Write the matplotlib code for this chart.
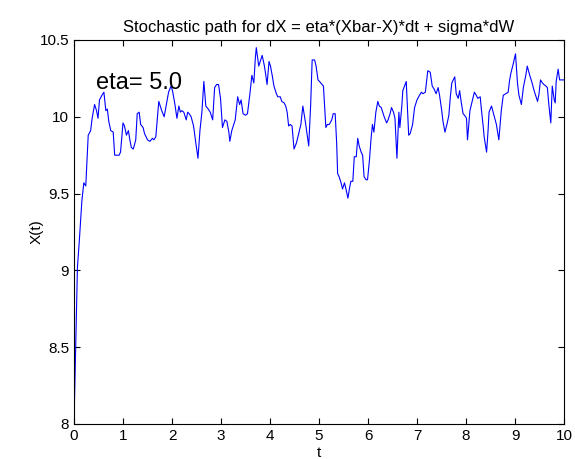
import numpy as np
import matplotlib.pyplot as plt

plt.rcParams['font.family'] = ['Liberation Sans', 'DejaVu Sans']

# path
t = [0.00, 0.07, 0.11, 0.16, 0.20, 0.24, 0.29, 0.34, 0.37, 0.42, 0.46, 0.49, 0.52, 0.57, 0.61,
     0.65, 0.68, 0.71, 0.75, 0.80, 0.83, 0.88, 0.92, 0.95, 1.00, 1.03, 1.07, 1.11, 1.14, 1.17,
     1.21, 1.26, 1.29, 1.33, 1.36, 1.41, 1.44, 1.50, 1.55, 1.60, 1.63,
     1.67, 1.73, 1.79, 1.84, 1.89, 1.93, 1.98, 2.01, 2.06, 2.10, 2.14, 2.17, 2.20, 2.24, 2.29,
     2.32, 2.35, 2.39, 2.44, 2.49, 2.53, 2.57, 2.61, 2.65, 2.69, 2.74, 2.78, 2.83, 2.87, 2.91,
     2.95, 2.99, 3.03, 3.08, 3.12, 3.16, 3.18, 3.22, 3.27, 3.29, 3.34,
     3.38, 3.41, 3.45, 3.50, 3.54, 3.59, 3.63, 3.67, 3.70, 3.72, 3.77, 3.81, 3.84, 3.88, 3.91,
     3.94, 3.98, 4.01, 4.05, 4.08, 4.13, 4.16, 4.21, 4.24, 4.29, 4.32, 4.35, 4.38, 4.41, 4.45,
     4.49, 4.54, 4.57, 4.63, 4.67, 4.72, 4.76, 4.79, 4.83, 4.86, 4.91, 4.94, 4.98, 5.01,
     5.09, 5.14, 5.17, 5.21, 5.26, 5.29, 5.33, 5.36, 5.38, 5.41, 5.45, 5.48, 5.52, 5.55, 5.59,
     5.62, 5.65, 5.69, 5.72, 5.76, 5.79, 5.82, 5.86, 5.89, 5.92, 5.96, 5.99, 6.03, 6.06, 6.09,
     6.12, 6.16, 6.20, 6.23, 6.27, 6.30, 6.33, 6.38, 6.41, 6.45, 6.48, 6.52, 6.55, 6.59, 6.63,
     6.65, 6.69,
     6.71, 6.78, 6.83, 6.86, 6.91, 6.95, 7.00, 7.05, 7.09, 7.12, 7.17, 7.22, 7.27, 7.31, 7.35,
     7.39, 7.43, 7.46, 7.50, 7.53, 7.57, 7.61, 7.65, 7.68, 7.71, 7.77, 7.80, 7.84, 7.87, 7.90,
     7.94, 7.97, 8.01, 8.03, 8.08, 8.11, 8.14, 8.17, 8.21, 8.24, 8.29, 8.31, 8.35,
     8.37, 8.40, 8.42, 8.45, 8.47, 8.52, 8.57, 8.62, 8.67, 8.72, 8.76, 8.81, 8.86, 8.89, 8.92,
     8.96, 9.01, 9.05, 9.08, 9.13, 9.17, 9.22, 9.25, 9.30, 9.34, 9.39, 9.42, 9.46, 9.49, 9.52,
     9.56, 9.59, 9.63, 9.66, 9.69, 9.73, 9.76, 9.80, 9.82, 9.84, 9.88, 9.91, 9.94, 10.00]

X = [8.00, 9.02, 9.20, 9.45, 9.57, 9.55, 9.88, 9.91, 9.99, 10.08, 10.04, 9.99, 10.11, 10.14, 10.16,
     10.04, 10.05, 9.97, 9.91, 9.90, 9.75, 9.75, 9.75, 9.77, 9.96, 9.94, 9.88, 9.91, 9.85, 9.80,
     9.79, 9.85, 10.02, 10.03, 9.95, 9.93, 9.89, 9.85, 9.84, 9.86, 9.85,
     9.87, 10.10, 10.04, 10.00, 10.09, 10.16, 10.20, 10.17, 10.08, 9.99, 10.07, 10.03, 10.04, 10.03, 9.98,
     10.03, 10.02, 10.00, 9.94, 9.82, 9.73, 9.91, 10.03, 10.23, 10.07, 10.05, 10.03, 9.98, 10.19, 10.21,
     10.21, 10.12, 9.93, 9.98, 9.97, 9.90, 9.84, 9.91, 9.96, 9.98, 10.13,
     10.08, 10.11, 10.02, 10.01, 10.02, 10.15, 10.27, 10.22, 10.38, 10.45, 10.33, 10.37, 10.40, 10.34, 10.28,
     10.21, 10.36, 10.33, 10.26, 10.20, 10.15, 10.13, 10.13, 10.10, 10.09, 10.07, 10.03, 9.94, 9.95, 9.94,
     9.79, 9.83, 9.87, 9.95, 10.07, 9.97, 9.88, 9.81, 10.08, 10.37, 10.37, 10.33, 10.24, 10.23,
     10.20, 9.93, 9.95, 9.95, 9.98, 10.02, 10.02, 9.83, 9.63, 9.61, 9.57, 9.53, 9.57, 9.53, 9.47,
     9.53, 9.58, 9.58, 9.74, 9.74, 9.86, 9.81, 9.77, 9.75, 9.61, 9.59, 9.59, 9.72, 9.85, 9.95,
     9.90, 10.03, 10.10, 10.07, 10.06, 10.03, 10.00, 9.96, 9.98, 10.02, 10.06, 10.03, 9.99, 9.73, 10.03,
     9.93, 10.07,
     10.17, 10.23, 9.88, 9.89, 9.95, 10.06, 10.11, 10.14, 10.16, 10.15, 10.16, 10.30, 10.29, 10.20, 10.18,
     10.15, 10.19, 10.14, 10.05, 9.97, 9.90, 9.95, 10.01, 10.13, 10.22, 10.26, 10.15, 10.12, 10.17, 10.10,
     10.02, 10.01, 9.99, 9.85, 10.04, 10.08, 10.12, 10.16, 10.14, 10.12, 10.13, 10.06, 9.94,
     9.87, 9.81, 9.77, 9.91, 10.03, 10.07, 10.01, 9.95, 9.85, 10.04, 10.14, 10.15, 10.16, 10.24, 10.29,
     10.34, 10.41, 10.22, 10.14, 10.08, 10.19, 10.27, 10.33, 10.27, 10.23, 10.17, 10.14, 10.10, 10.15, 10.24,
     10.22, 10.21, 10.20, 10.19, 10.08, 9.96, 10.20, 10.11, 10.09, 10.23, 10.31, 10.24, 10.24, 10.24]

eta = 5.0

fig = plt.figure(figsize=(5.75, 4.59), dpi=100)
ax = fig.add_axes([0.1287, 0.0763, 0.8522, 0.8366])
ax.plot(t, X, color='blue', lw=0.8)

ax.set_xlim(0, 10)
ax.set_ylim(8, 10.5)
ax.set_xticks(np.arange(0, 11, 1))
ax.set_yticks([8, 8.5, 9, 9.5, 10, 10.5])
ax.set_yticklabels(['8', '8.5', '9', '9.5', '10', '10.5'])
ax.tick_params(direction='in', top=True, right=True, labelsize=11, length=4, width=0.8)
for s in ax.spines.values():
    s.set_linewidth(0.8)

ax.text(0.45, 10.18, 'eta= %.1f' % eta, fontsize=17)
ax.set_title('Stochastic path for dX = eta*(Xbar-X)*dt + sigma*dW', fontsize=12, pad=6)
ax.set_xlabel('t', fontsize=11, labelpad=2)
ax.set_ylabel('X(t)', fontsize=11, labelpad=-3)

plt.savefig('out.png', dpi=100)
